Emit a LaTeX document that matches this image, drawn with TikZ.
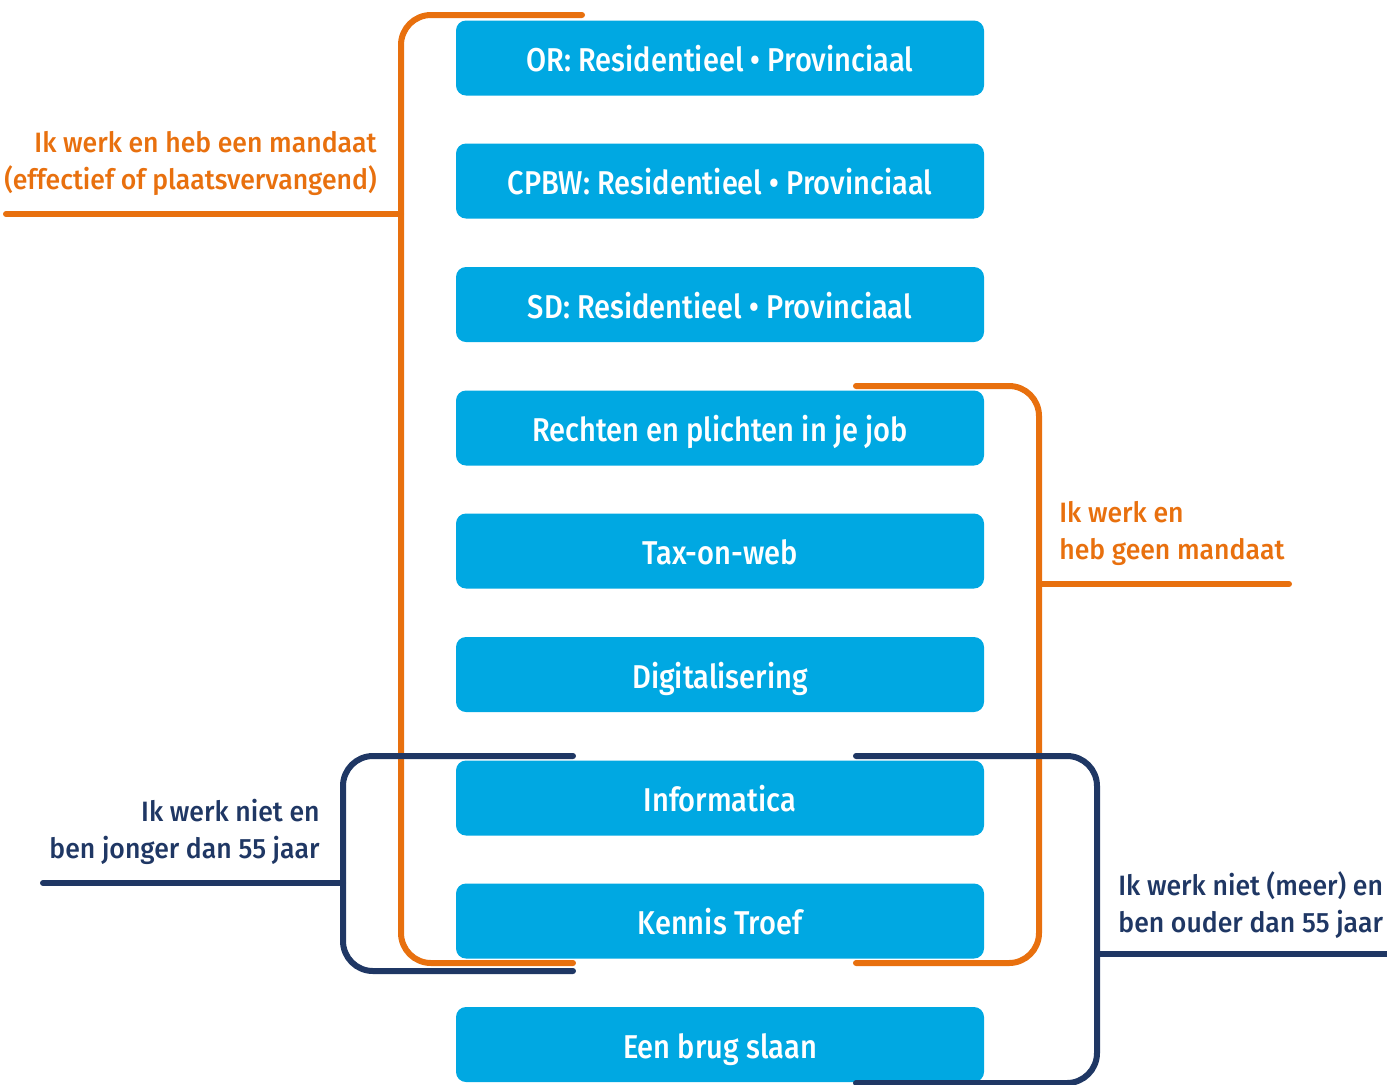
\documentclass[tikz,border=0pt]{standalone}
\usepackage{fontspec}
\setmainfont{Fira Sans}[UprightFont={* Medium},BoldFont={* SemiBold}]
\newfontfamily\coursefont{Fira Sans}[UprightFont={* Medium},FakeStretch=0.88]
\newfontfamily\groupfont{Fira Sans}[UprightFont={* Medium},FakeStretch=0.95]
\definecolor{boxblue}{HTML}{00A8E2}
\definecolor{mandaatorange}{HTML}{E8700E}
\definecolor{rustnavy}{HTML}{1F3764}
\tikzset{
  course/.style={fill=boxblue,rounded corners=5pt,minimum width=264pt,minimum height=37.5pt,
    text=white,font=\coursefont\fontsize{16.5}{20}\selectfont,inner sep=0pt,
    text height=15pt,text depth=1.5pt},
  bracket/.style={line width=3pt,line cap=round,rounded corners=15pt},
  grouplabel/.style={font=\groupfont\fontsize{14}{18.5}\selectfont,inner sep=0pt}
}
\begin{document}
\begin{tikzpicture}[x=0.5pt,y=-0.5pt]
\useasboundingbox (0,0) rectangle (1387,1084);
% courses
\node[course] (or) at (720,58) {OR: Residentieel • Provinciaal};
\node[course] (cpbw) at (720,181) {CPBW: Residentieel • Provinciaal};
\node[course] (sd) at (720,304.5) {SD: Residentieel • Provinciaal};
\node[course] (rechten) at (720,428) {Rechten en plichten in je job};
\node[course] (tax) at (720,551) {Tax-on-web};
\node[course] (digi) at (720,674.5) {Digitalisering};
\node[course] (info) at (720,798) {Informatica};
\node[course] (troef) at (720,921) {Kennis Troef};
\node[course] (brug) at (720,1044.5) {Een brug slaan};
% brackets
\draw[bracket,mandaatorange] (582,15) -- (401,15) -- (401,963) -- (573,963);
\draw[bracket,mandaatorange] (6,214) -- (401,214);
\draw[bracket,mandaatorange] (856,386) -- (1039,386) -- (1039,963) -- (856,963);
\draw[bracket,mandaatorange] (1039,584) -- (1289,584);
\draw[bracket,rustnavy] (573,756) -- (343,756) -- (343,971) -- (573,971);
\draw[bracket,rustnavy] (43,883) -- (343,883);
\draw[bracket,rustnavy] (856,756) -- (1097,756) -- (1097,1083) -- (856,1083);
\draw[bracket,rustnavy] (1097,954) -- (1400,954);
% labels
\node[grouplabel,mandaatorange,align=right,anchor=base east] (lmandaat) at (377,189)
  {Ik werk en heb een mandaat\\(effectief of plaatsvervangend)};
\node[grouplabel,mandaatorange,align=left,anchor=base west] (lgeen) at (1059,559)
  {Ik werk en\\heb geen mandaat};
\node[grouplabel,rustnavy,align=right,anchor=base east] (ljong) at (320,858)
  {Ik werk niet en\\ben jonger dan 55 jaar};
\node[grouplabel,rustnavy,align=left,anchor=base west] (loud) at (1118,932)
  {Ik werk niet (meer) en\\ben ouder dan 55 jaar};
\end{tikzpicture}
\end{document}
